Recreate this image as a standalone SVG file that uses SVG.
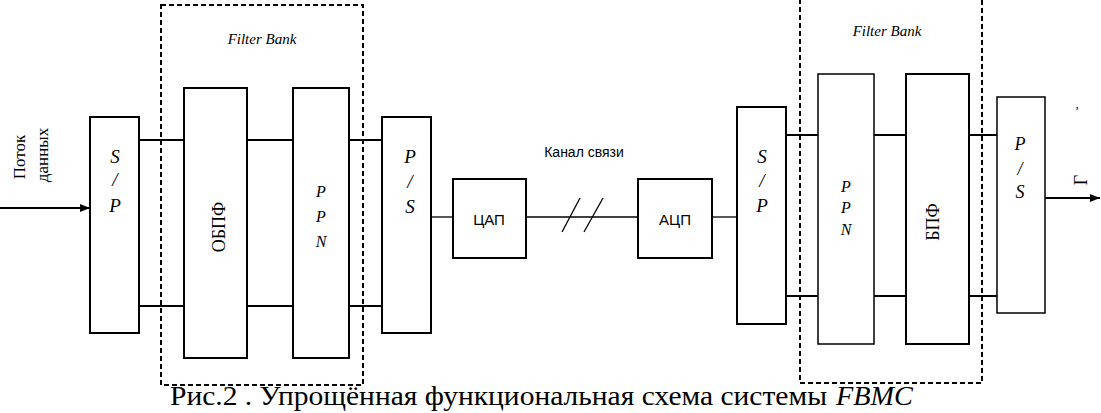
<svg xmlns="http://www.w3.org/2000/svg" width="1101" height="413" viewBox="0 0 1101 413">
<defs>
<style>
.box{fill:#fff;stroke:#000;stroke-width:2}
.thin{fill:#fff;stroke:#000;stroke-width:1.5}
.dash{fill:none;stroke:#000;stroke-width:2;stroke-dasharray:5,3}
.ln{stroke:#000;stroke-width:2;fill:none}
.ln1{stroke:#000;stroke-width:1.3;fill:none}
.it{font-family:"Liberation Serif","Times New Roman",serif;font-style:italic;fill:#000;text-anchor:middle}
.rm{font-family:"Liberation Serif","Times New Roman",serif;fill:#000;text-anchor:middle}
.sn{font-family:"Liberation Sans",Arial,sans-serif;fill:#000;text-anchor:middle}
.cap{font-family:"Liberation Serif","Times New Roman",serif;font-size:28px;fill:#000}
</style>
<marker id="ah" viewBox="0 0 10 10" refX="10" refY="5" markerWidth="10" markerHeight="10" markerUnits="userSpaceOnUse" orient="auto">
<path d="M0,1 L10,5 L0,9 z" fill="#000"/>
</marker>
</defs>
<rect width="1101" height="413" fill="#fff"/>

<g id="filterbank1">
<rect class="dash" x="161" y="5" width="202" height="380"/>
<text class="it" x="262" y="44" font-size="15">Filter Bank</text>
</g>
<g id="filterbank2">
<rect class="dash" x="800" y="-10" width="182" height="393"/>
<text class="it" x="887" y="36" font-size="15">Filter Bank</text>
</g>

<g id="connectors">
<line class="ln" x1="0" y1="208" x2="90" y2="208" marker-end="url(#ah)"/>
<line class="ln" x1="139" y1="140" x2="184" y2="140"/>
<line class="ln" x1="139" y1="306" x2="184" y2="306"/>
<line class="ln" x1="247" y1="140" x2="293" y2="140"/>
<line class="ln" x1="247" y1="306" x2="293" y2="306"/>
<line class="ln" x1="349" y1="140" x2="382" y2="140"/>
<line class="ln" x1="349" y1="306" x2="382" y2="306"/>
<line class="ln1" x1="431" y1="217" x2="453" y2="217"/>
<line class="ln1" x1="526" y1="217" x2="638" y2="217"/>
<line class="ln1" x1="562" y1="232" x2="580" y2="198"/>
<line class="ln1" x1="584" y1="232" x2="603" y2="198"/>
<line class="ln1" x1="712" y1="217" x2="737" y2="217"/>
<line class="ln" x1="786" y1="135" x2="818" y2="135"/>
<line class="ln" x1="786" y1="296" x2="818" y2="296"/>
<line class="ln" x1="874" y1="135" x2="906" y2="135"/>
<line class="ln" x1="874" y1="296" x2="906" y2="296"/>
<line class="ln" x1="969" y1="135" x2="997" y2="135"/>
<line class="ln" x1="969" y1="296" x2="997" y2="296"/>
<line class="ln" x1="1045" y1="198" x2="1100" y2="198" marker-end="url(#ah)"/>
</g>

<g id="input-label">
<text class="rm" font-size="17" transform="translate(25,157) rotate(-90)">Поток</text>
<text class="rm" font-size="17" transform="translate(48,155) rotate(-90)">данных</text>
</g>

<g id="sp1">
<rect class="box" x="90" y="117" width="49" height="216"/>
<text class="it" x="115" y="163" font-size="19">S</text>
<text class="it" x="115" y="186" font-size="19">/</text>
<text class="it" x="115" y="212" font-size="19">P</text>
</g>

<g id="obpf">
<rect class="box" x="184" y="88" width="63" height="270"/>
<text class="rm" font-size="18" transform="translate(225,227) rotate(-90)">ОБПФ</text>
</g>

<g id="ppn1">
<rect class="box" x="293" y="88" width="56" height="270"/>
<text class="it" x="321" y="197" font-size="16">P</text>
<text class="it" x="321" y="222" font-size="16">P</text>
<text class="it" x="321" y="247" font-size="16">N</text>
</g>

<g id="ps1">
<rect class="box" x="382" y="117" width="49" height="216"/>
<text class="it" x="410" y="163" font-size="19">P</text>
<text class="it" x="410" y="188" font-size="19">/</text>
<text class="it" x="410" y="213" font-size="19">S</text>
</g>

<g id="dac">
<rect class="box" x="453" y="179" width="73" height="79"/>
<text class="sn" x="489" y="225" font-size="15">ЦАП</text>
</g>

<g id="channel">
<text class="sn" x="584" y="157" font-size="14">Канал связи</text>
</g>

<g id="adc">
<rect class="box" x="638" y="179" width="74" height="79"/>
<text class="sn" x="675" y="225" font-size="15">АЦП</text>
</g>

<g id="sp2">
<rect class="box" x="737" y="107" width="49" height="217"/>
<text class="it" x="762" y="163" font-size="19">S</text>
<text class="it" x="762" y="187" font-size="19">/</text>
<text class="it" x="762" y="212" font-size="19">P</text>
</g>

<g id="ppn2">
<rect class="thin" x="818" y="74" width="56" height="270"/>
<text class="it" x="846" y="192" font-size="16">P</text>
<text class="it" x="846" y="213" font-size="16">P</text>
<text class="it" x="846" y="235" font-size="16">N</text>
</g>

<g id="bpf">
<rect class="box" x="906" y="74" width="63" height="270"/>
<text class="rm" font-size="18" transform="translate(939,222) rotate(-90)">БПФ</text>
</g>

<g id="ps2">
<rect class="thin" x="997" y="97" width="48" height="216"/>
<text class="it" x="1020" y="150" font-size="18">P</text>
<text class="it" x="1020" y="175" font-size="18">/</text>
<text class="it" x="1020" y="198" font-size="18">S</text>
</g>

<g id="output-label">
<text class="rm" x="1077" y="108" font-size="13">,</text>
<text class="rm" font-size="18" transform="translate(1087,180) rotate(-90)">Г</text>
</g>

<g id="caption">
<text class="cap" x="170" y="405" textLength="657" lengthAdjust="spacingAndGlyphs">Рис.2 . Упрощённая функциональная схема системы</text>
<text class="cap" x="836" y="405" font-style="italic" textLength="77" lengthAdjust="spacingAndGlyphs">FBMC</text>
</g>
</svg>
